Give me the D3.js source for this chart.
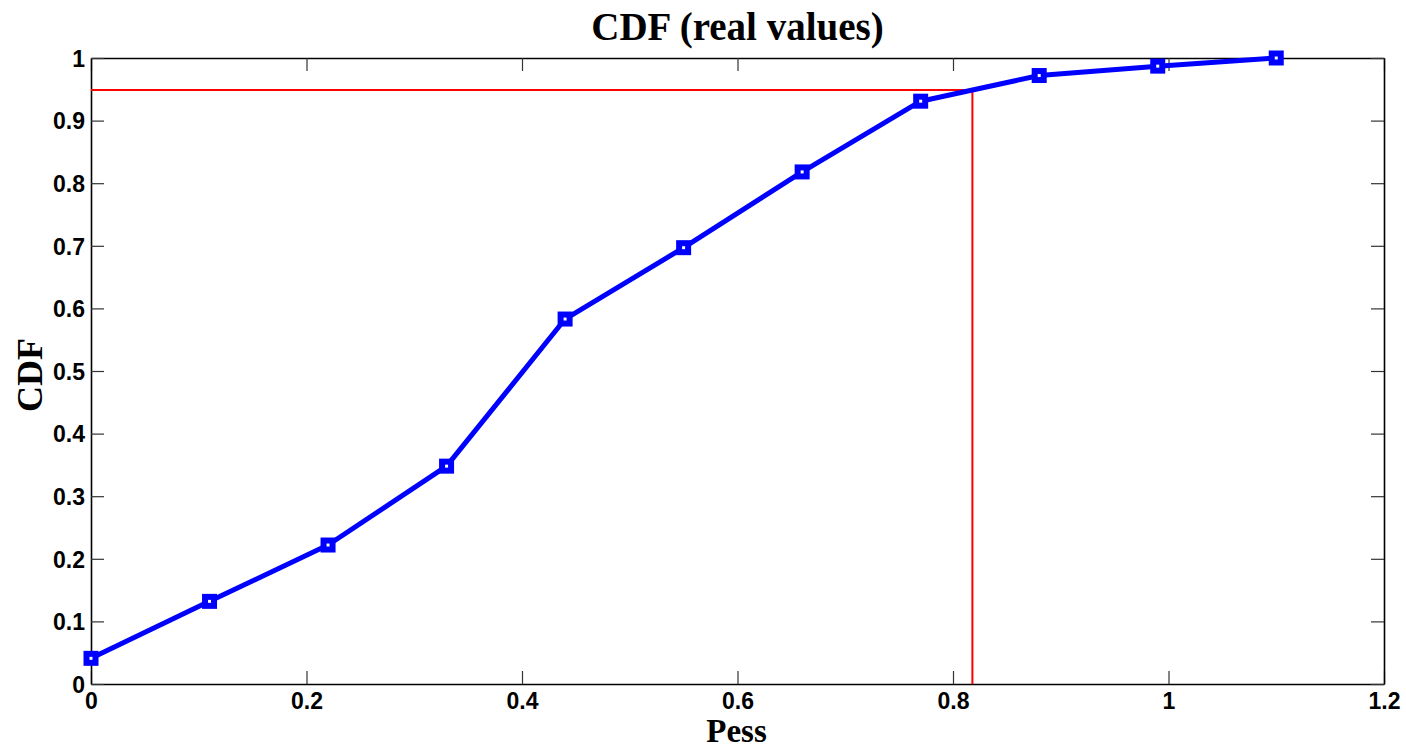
<!DOCTYPE html>
<html>
<head>
<meta charset="utf-8">
<script src="https://cdn.jsdelivr.net/npm/d3@7"></script>
<style>
  html, body { margin: 0; padding: 0; background: #fff; }
  svg { display: block; }
  .tick text { font-family: 'Liberation Sans', Arial, sans-serif; font-weight: bold; font-size: 23px; fill: #000; }
</style>
</head>
<body>
<svg id="chart" width="1406" height="752"></svg>
<script>
// Empirical CDF of Pess
const pessValues = [0, 0.11, 0.22, 0.33, 0.44, 0.55, 0.66, 0.77, 0.88, 0.99, 1.10];
const cdfValues  = [0.041, 0.132, 0.222, 0.348, 0.583, 0.697, 0.818, 0.931, 0.972, 0.987, 1.0];

// 95th-percentile guide
const guideCdf = 0.949;
const guidePess = 0.818;

const xTicks = [0, 0.2, 0.4, 0.6, 0.8, 1, 1.2];
const yTicks = [0, 0.1, 0.2, 0.3, 0.4, 0.5, 0.6, 0.7, 0.8, 0.9, 1];

const margin = { left: 91, right: 22, top: 58, bottom: 68 };
const W = 1406, H = 752;
const svg = d3.select("#chart");

const x = d3.scaleLinear().domain([0, 1.2]).range([margin.left, W - margin.right]);
const y = d3.scaleLinear().domain([0, 1]).range([H - margin.bottom, margin.top]);

const tickLen = 13;
const fmt = d => d3.format("~g")(d);

// Axes (ticks pointing inward, boxed)
const gx = svg.append("g").attr("transform", `translate(0,${y(0)})`)
  .call(d3.axisBottom(x).tickValues(xTicks).tickFormat(fmt).tickSizeInner(-tickLen).tickSizeOuter(0).tickPadding(9));
const gxTop = svg.append("g").attr("transform", `translate(0,${y(1)})`)
  .call(d3.axisTop(x).tickValues(xTicks).tickFormat("").tickSizeInner(-tickLen).tickSizeOuter(0));
const gy = svg.append("g").attr("transform", `translate(${x(0)},0)`)
  .call(d3.axisLeft(y).tickValues(yTicks).tickFormat(fmt).tickSizeInner(-tickLen).tickSizeOuter(0).tickPadding(6));
const gyRight = svg.append("g").attr("transform", `translate(${x(1.2)},0)`)
  .call(d3.axisRight(y).tickValues(yTicks).tickFormat("").tickSizeInner(-tickLen).tickSizeOuter(0));

[gx, gxTop, gy, gyRight].forEach(g => {
  g.attr("font-size", null).attr("font-family", null);
  g.select(".domain").attr("stroke", "#000").attr("stroke-width", 1.6);
  g.selectAll(".tick line").attr("stroke", "#333").attr("stroke-width", 1.2);
  g.selectAll(".tick text").attr("fill", "#000");
});
gy.selectAll(".tick text").attr("dy", "0.36em");
gx.selectAll(".tick text").attr("dy", "0.7em");

// Guide lines
svg.append("path")
  .attr("d", `M${x(0)},${y(guideCdf)}H${x(guidePess)}V${y(0)}`)
  .attr("fill", "none")
  .attr("stroke", "#ff0000")
  .attr("stroke-width", 2);

// CDF curve
const pts = pessValues.map((v, i) => [v, cdfValues[i]]);
svg.append("path")
  .datum(pts)
  .attr("d", d3.line().x(d => x(d[0])).y(d => y(d[1])))
  .attr("fill", "none")
  .attr("stroke", "#0000ff")
  .attr("stroke-width", 5)
  .attr("stroke-linejoin", "round");

const ms = 9;
svg.append("g").selectAll("rect")
  .data(pts)
  .join("rect")
  .attr("x", d => x(d[0]) - ms / 2)
  .attr("y", d => y(d[1]) - ms / 2)
  .attr("width", ms)
  .attr("height", ms)
  .attr("fill", "#fff")
  .attr("stroke", "#0000ff")
  .attr("stroke-width", 6);

// Title and axis labels
svg.append("text")
  .attr("x", (x(0) + x(1.2)) / 2)
  .attr("y", 40)
  .attr("text-anchor", "middle")
  .attr("font-family", "'Liberation Serif', 'Times New Roman', serif")
  .attr("font-weight", "bold")
  .attr("font-size", 39)
  .text("CDF (real values)");

svg.append("text")
  .attr("x", (x(0) + x(1.2)) / 2 - 1)
  .attr("y", 742)
  .attr("text-anchor", "middle")
  .attr("font-family", "'Liberation Serif', 'Times New Roman', serif")
  .attr("font-weight", "bold")
  .attr("font-size", 33)
  .text("Pess");

svg.append("text")
  .attr("transform", `translate(42,375) rotate(-90)`)
  .attr("text-anchor", "middle")
  .attr("font-family", "'Liberation Serif', 'Times New Roman', serif")
  .attr("font-weight", "bold")
  .attr("font-size", 36)
  .text("CDF");
</script>
</body>
</html>
